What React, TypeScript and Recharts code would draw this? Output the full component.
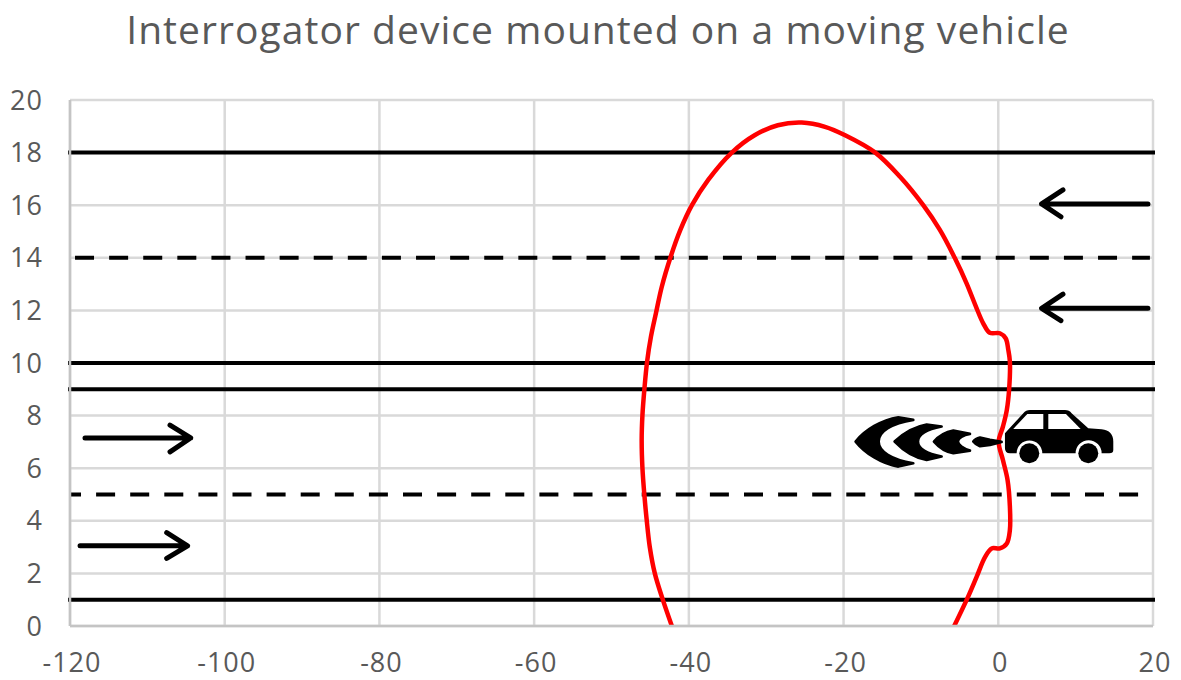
import React from 'react';
import { ComposedChart, CartesianGrid, Line, Scatter, XAxis, YAxis } from 'recharts';

const xTicks = [-120, -100, -80, -60, -40, -20, 0, 20];
const yTicks = [0, 2, 4, 6, 8, 10, 12, 14, 16, 18, 20];

// coverage lobe, going up the left side and back down the right
const lobeX = [
  -42.2, -43.4, -44.4, -45.05, -45.45, -45.75, -46.0, -46.1, -46.0, -45.75, -45.4, -44.9, -44.25, -43.5, -42.35, -41.1,
  -39.6, -37.5, -34.45, -31.5, -28.5, -25.4, -22.4, -19.8, -15.9, -12.7, -9.7, -7.55, -5.6, -4.1, -2.8, -1.95, -1.1, 0.2,
  0.95, 1.3, 1.5, 1.4, 1.1, 0.6, 0.05, 0.6, 1.2, 1.5, 1.5, 1.1, 0.2, -0.85, -1.7, -2.8, -4.0, -5.7,
];
const lobeY = [
  0, 1.03, 2.0, 3.0, 4.03, 4.98, 6.0, 7.07, 8.02, 9.0, 10.05, 11.0, 11.9, 12.9, 14.04, 15.06, 16.0, 16.96, 18.0, 18.66,
  19.04, 19.14, 18.98, 18.66, 18.0, 17.08, 16.0, 15.06, 13.98, 13.03, 12.08, 11.51, 11.15, 11.13, 10.94, 10.49, 10.05,
  9.0, 8.21, 7.58, 7.01, 6.31, 5.55, 4.54, 3.65, 3.14, 2.95, 2.95, 2.63, 1.87, 1.05, 0,
];

const solidLanes = [18, 10, 9, 1];
const upperDashX = [-119.35, 19.6];
const upperDashY = 14;
const lowerDashX = [-120, 20];
const lowerDashY = 5;

// each arrow: tail, tip, barb, tip, barb
const arrow1X = [-118.06, -104.4, -107.07, -104.4, -107.07];
const arrow1Y = [7.15, 7.15, 7.64, 7.15, 6.62];
const arrow2X = [-118.7, -104.8, -107.5, -104.8, -107.5];
const arrow2Y = [3.05, 3.05, 3.55, 3.05, 2.57];
const arrow3X = [19.35, 5.6, 8.36, 5.6, 8.1];
const arrow3Y = [16.05, 16.05, 16.58, 16.05, 15.56];
const arrow4X = [19.35, 5.6, 8.36, 5.6, 8.1];
const arrow4Y = [12.08, 12.08, 12.62, 12.08, 11.61];

const carAt = [{ x: 0, y: 7 }];

const toPoints = (xs: number[], ys: number[]) => xs.map((x, i) => ({ x, y: ys[i] }));
const lobe = toPoints(lobeX, lobeY);
const arrows = [
  toPoints(arrow1X, arrow1Y),
  toPoints(arrow2X, arrow2Y),
  toPoints(arrow3X, arrow3Y),
  toPoints(arrow4X, arrow4Y),
];

const grey = '#595959';

// centripetal catmull-rom, the built-in curves wobble on unevenly spaced points
const catmullRom = (context: any) => {
  let pts: number[][] = [];
  return {
    lineStart() {
      pts = [];
    },
    point(x: number, y: number) {
      pts.push([x, y]);
    },
    lineEnd() {
      pts.forEach((p, i) => {
        if (i === 0) {
          context.moveTo(p[0], p[1]);
          return;
        }
        const p1 = pts[i - 1];
        const p0 = pts[i - 2] || p1;
        const p3 = pts[i + 1] || p;
        const d1 = Math.sqrt(Math.hypot(p1[0] - p0[0], p1[1] - p0[1]));
        const d2 = Math.sqrt(Math.hypot(p[0] - p1[0], p[1] - p1[1]));
        const d3 = Math.sqrt(Math.hypot(p3[0] - p[0], p3[1] - p[1]));
        const c1 = [p1[0], p1[1]];
        const c2 = [p[0], p[1]];
        if (d1 > 0) {
          const a = 2 * d1 * d1 + 3 * d1 * d2 + d2 * d2;
          const n = 3 * d1 * (d1 + d2);
          c1[0] = (p1[0] * a - p0[0] * d2 * d2 + p[0] * d1 * d1) / n;
          c1[1] = (p1[1] * a - p0[1] * d2 * d2 + p[1] * d1 * d1) / n;
        }
        if (d3 > 0) {
          const b = 2 * d3 * d3 + 3 * d3 * d2 + d2 * d2;
          const m = 3 * d3 * (d3 + d2);
          c2[0] = (p[0] * b + p1[0] * d3 * d3 - p3[0] * d2 * d2) / m;
          c2[1] = (p[1] * b + p1[1] * d3 * d3 - p3[1] * d2 * d2) / m;
        }
        context.bezierCurveTo(c1[0], c1[1], c2[0], c2[1], p[0], p[1]);
      });
    },
    areaStart() {},
    areaEnd() {},
  };
};

// icon drawn at 3x around the antenna point, then scaled down
const CarIcon = ({ cx, cy }: any) => (
  <g transform={`translate(${cx},${cy}) scale(${1 / 3}) translate(-535,-366)`} fill="#000">
    <g stroke="#000" strokeWidth={8} strokeLinejoin="round">
      <path d="M107,365 C135,330 185,300 235,292 L280,300 C215,310 176,335 176,365 C176,395 215,420 280,430 L235,440 C185,432 135,400 107,365Z" />
      <path d="M224,365 C250,340 285,320 320,314 L365,320 C325,328 294,342 294,365 C294,388 325,402 365,410 L320,420 C285,414 250,392 224,365Z" />
      <path d="M342,365 C355,350 378,336 400,332 L450,342 C430,345 414,355 414,365 C414,375 430,386 450,392 L400,400 C378,396 355,380 342,365Z" />
      <path d="M460,365 C465,358 472,355 480,353 L510,360 L545,366 L510,375 L480,379 C472,376 465,372 460,365Z" />
    </g>
    <path d="M555,340 L610,280 Q618,270 630,270 L735,270 Q748,270 755,280 L805,325 L845,328 Q880,332 880,365 L880,390 Q880,400 868,400 L845,400 A38,38 0 0 0 767,400 L667,400 A38,38 0 0 0 590,400 L570,400 Q555,400 555,385Z" />
    <path d="M580,327 L622,282 L670,282 L670,327Z" fill="#fff" />
    <path d="M685,282 L738,282 L782,327 L685,327Z" fill="#fff" />
    <circle cx={628} cy={400} r={30} />
    <circle cx={805} cy={400} r={30} />
  </g>
);

export default function App() {
  return (
    <div style={{ position: 'absolute', left: 0, top: 0, background: '#fff' }}>
      <ComposedChart width={1181} height={680} margin={{ top: 100, right: 28, bottom: 0, left: 0 }}>
        <text x={598} y={44} textAnchor="middle" fontFamily="Open Sans" fontSize={39} letterSpacing={1.05} fill={grey}>
          Interrogator device mounted on a moving vehicle
        </text>
        <CartesianGrid stroke="#d9d9d9" strokeWidth={2.5} />
        <XAxis
          dataKey="x"
          type="number"
          domain={[-120, 20]}
          ticks={xTicks}
          height={54}
          interval={0}
          tickLine={false}
          tickMargin={21}
          axisLine={{ stroke: '#c4c4c4', strokeWidth: 2.5 }}
          tick={{ fill: grey, fontSize: 27, fontFamily: 'Open Sans', letterSpacing: 1, dx: 2 }}
        />
        <YAxis
          dataKey="y"
          type="number"
          domain={[0, 20]}
          ticks={yTicks}
          width={70}
          interval={0}
          tickLine={false}
          tickMargin={21}
          axisLine={{ stroke: '#c4c4c4', strokeWidth: 2.5 }}
          tick={{ fill: grey, fontSize: 27, fontFamily: 'Open Sans', letterSpacing: 1 }}
        />
        {solidLanes.map((lane) => (
          <Line
            key={lane}
            data={toPoints([-120, 20], [lane, lane])}
            dataKey="y"
            stroke="#000"
            strokeWidth={4}
            strokeLinecap="square"
            dot={false}
            activeDot={false}
            isAnimationActive={false}
          />
        ))}
        <Line
          data={toPoints(upperDashX, [upperDashY, upperDashY])}
          dataKey="y"
          stroke="#000"
          strokeWidth={4}
          strokeDasharray="19 15.1"
          dot={false}
          activeDot={false}
          isAnimationActive={false}
        />
        <Line
          data={toPoints(lowerDashX, [lowerDashY, lowerDashY])}
          dataKey="y"
          stroke="#000"
          strokeWidth={4}
          strokeDasharray="19 15.1"
          strokeDashoffset={8}
          dot={false}
          activeDot={false}
          isAnimationActive={false}
        />
        {arrows.map((points, i) => (
          <Line
            key={i}
            data={points}
            dataKey="y"
            stroke="#000"
            strokeWidth={5}
            strokeLinecap="round"
            strokeLinejoin="round"
            dot={false}
            activeDot={false}
            isAnimationActive={false}
          />
        ))}
        <Scatter data={carAt} dataKey="y" shape={CarIcon} isAnimationActive={false} />
        <Line
          data={lobe}
          dataKey="y"
          type={catmullRom as any}
          stroke="#ff0000"
          strokeWidth={4.5}
          dot={false}
          activeDot={false}
          isAnimationActive={false}
        />
      </ComposedChart>
    </div>
  );
}
